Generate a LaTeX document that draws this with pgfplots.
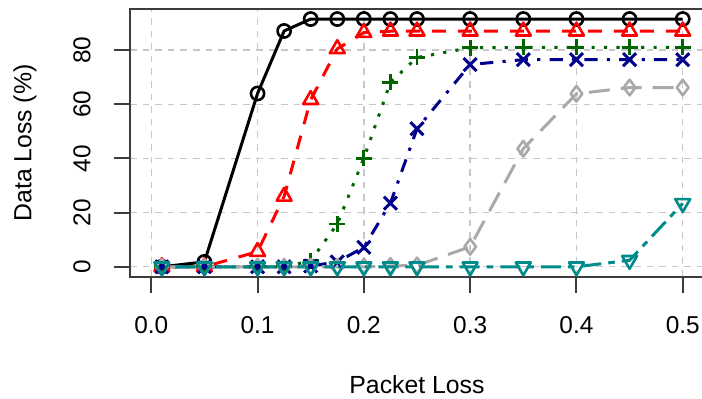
\documentclass[border=0pt]{standalone}
\usepackage{fontspec}
\setmainfont{Liberation Sans}
\usepackage{graphicx}
\usepackage{pgfplots}
\pgfplotsset{compat=1.18}
\definecolor{rred}{RGB}{255,0,0}
\definecolor{rgreen}{RGB}{0,100,0}
\definecolor{rblue}{RGB}{0,0,139}
\definecolor{rgray}{RGB}{169,169,169}
\definecolor{rteal}{RGB}{0,139,139}
\definecolor{rgrid}{RGB}{200,200,200}
\definecolor{raxis}{RGB}{60,60,60}
\begin{document}
\begin{tikzpicture}
\begin{axis}[
  name=ax,
  scale only axis,
  width=287pt, height=133.7pt,
  xmin=-0.02, xmax=0.52, ymin=-3.66, ymax=95.1,
  xtick={0,0.1,0.2,0.3,0.4,0.5},
  xticklabels={0.0,0.1,0.2,0.3,0.4,0.5},
  ytick={0,20,40,60,80},
  yticklabels={\rotatebox{90}{0},\rotatebox{90}{20},\rotatebox{90}{40},\rotatebox{90}{60},\rotatebox{90}{80}},
  xtick pos=left, ytick pos=left,
  tick align=outside, major tick length=8pt,
  tick style={raxis, line width=1pt},
  axis line style={raxis, line width=1pt},
  grid=major,
  grid style={rgrid, line width=0.7pt, dash pattern=on 3.3pt off 3pt},
  /pgf/number format/assume math mode=true,
  tick label style={font=\fontsize{12.2}{14}\selectfont, inner sep=0pt},
  xticklabel style={anchor=center, yshift=-16.4pt},
  yticklabel style={anchor=center, xshift=-16pt},
  label style={font=\fontsize{12.4}{14}\selectfont},
  xlabel={Packet Loss},
  ylabel={Data Loss (\%)},
  xlabel style={at={(axis description cs:0.5,-0.4054)}, anchor=center},
  ylabel style={at={(axis description cs:-0.1829,0.5)}, anchor=center},
  every axis plot/.append style={line width=1.5pt, line cap=butt, line join=round},
]
\addplot[black, mark=o, mark size=3.3pt, mark options={solid, line width=1.3pt}] coordinates {
(0.01,0) (0.05,1.8) (0.1,64) (0.125,87.1) (0.15,91.5) (0.175,91.5) (0.2,91.5) (0.225,91.5) (0.25,91.5) (0.3,91.5) (0.35,91.5) (0.4,91.5) (0.45,91.5) (0.5,91.5)};
\addplot[rred, dash pattern=on 7pt off 6pt, mark=triangle, mark size=4.3pt, mark options={solid, line width=1.3pt}] coordinates {
(0.01,0) (0.05,0) (0.1,5.6) (0.125,26) (0.15,61.7) (0.175,80.5) (0.2,86.5) (0.225,87) (0.25,87) (0.3,87) (0.35,87) (0.4,87) (0.45,87) (0.5,87)};
\addplot[rgreen, dash pattern=on 1.6pt off 4.6pt, mark=+, mark size=4pt, mark options={solid, line width=1.4pt}] coordinates {
(0.01,0) (0.05,0) (0.1,0) (0.125,0) (0.15,2.2) (0.175,15.8) (0.2,40.1) (0.225,68.1) (0.25,77.3) (0.3,80.9) (0.35,81) (0.4,81) (0.45,81) (0.5,81)};
\addplot[rblue, dash pattern=on 1.6pt off 4.6pt on 6.6pt off 4.6pt, mark=x, mark size=4.6pt, mark options={solid, line width=1.5pt}] coordinates {
(0.01,0) (0.05,0) (0.1,0) (0.125,0) (0.15,0.3) (0.175,1.8) (0.2,7.2) (0.225,23.5) (0.25,51) (0.3,74.7) (0.35,76.5) (0.4,76.5) (0.45,76.5) (0.5,76.5)};
\addplot[rgray, dash pattern=on 10.5pt off 5.5pt, mark=diamond, mark size=3.9pt, mark options={solid, line width=1.3pt}] coordinates {
(0.01,0) (0.05,0) (0.1,0) (0.125,0) (0.15,0) (0.175,0) (0.2,0) (0.225,0.3) (0.25,0.5) (0.3,7.4) (0.35,43.6) (0.4,63.9) (0.45,66.2) (0.5,66.2)};
\addplot[rteal, dash pattern=on 3.3pt off 3.5pt on 10pt off 3.5pt, mark=triangle, mark size=4.3pt, mark options={solid, line width=1.3pt, rotate=180}] coordinates {
(0.01,0) (0.05,0) (0.1,0) (0.125,0) (0.15,0) (0.175,0) (0.2,0) (0.225,0) (0.25,0) (0.3,0) (0.35,0) (0.4,0) (0.45,2.4) (0.5,23.4)};
\end{axis}
\pgfresetboundingbox
\path[use as bounding box] ([shift={(-65pt,-61.15pt)}]ax.south west) rectangle ([shift={(286pt,138.35pt)}]ax.south west);
\end{tikzpicture}
\end{document}
